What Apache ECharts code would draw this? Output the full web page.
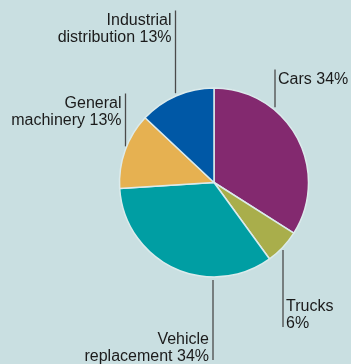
<!DOCTYPE html>
<html>
<head>
<meta charset="utf-8">
<script src="https://cdn.jsdelivr.net/npm/echarts@6/dist/echarts.min.js"></script>
<style>
  html, body { margin: 0; padding: 0; background: #c9dfe1; }
  #chart { width: 351px; height: 364px; }
</style>
</head>
<body>
<div id="chart"></div>
<script>
// Market segments and their shares (%), clockwise from 12 o'clock
const categories = ['Cars', 'Trucks', 'Vehicle\nreplacement', 'General\nmachinery', 'Industrial\ndistribution'];
const shares = [34, 6, 34, 13, 13];
const sliceColors = ['#83296f', '#a9ae4b', '#009ea3', '#e6b151', '#0058a6'];
// Trucks puts its percentage on a line of its own
const valueOnOwnLine = [false, true, false, false, false];

// Pie geometry (px)
const CENTER = [214, 182.5];
const RADIUS = 94.5;

// Where each label sits: the x of its vertical leader, which side the text is on,
// and the top (labels above the pie) or bottom (labels below) of the text block
const labelPlaces = [
  { lineX: 275,   side: 'right', top: 71 },
  { lineX: 283,   side: 'right', bottom: 332 },
  { lineX: 213,   side: 'left',  bottom: 365 },
  { lineX: 125.5, side: 'left',  top: 95 },
  { lineX: 175.5, side: 'left',  top: 12 }
];

const chart = echarts.init(document.getElementById('chart'), null, { renderer: 'canvas' });

chart.setOption({
  backgroundColor: '#c9dfe1',
  animation: false,
  series: [{
    type: 'pie',
    center: CENTER,
    radius: RADIUS,
    startAngle: 90,
    clockwise: true,
    avoidLabelOverlap: false,
    emphasis: { disabled: true },
    itemStyle: { borderColor: '#dcebec', borderWidth: 1.5 },
    label: {
      show: true,
      position: 'outside',
      overflow: 'none',
      color: '#1b1b1b',
      fontFamily: 'Liberation Sans, Arial, sans-serif',
      fontSize: 16,
      lineHeight: 17,
      formatter: p => p.name + (valueOnOwnLine[p.dataIndex] ? '\n' : ' ') + p.value + '%'
    },
    labelLine: {
      show: true,
      smooth: false,
      lineStyle: { color: '#4a4a4a', width: 1.3 }
    },
    labelLayout: function (params) {
      const place = labelPlaces[params.dataIndex];
      const dx = place.lineX - CENTER[0];
      const half = Math.sqrt(Math.max(RADIUS * RADIUS - dx * dx, 0));
      const textX = place.side === 'right' ? place.lineX + 3 : place.lineX - 4;
      const align = place.side === 'right' ? 'left' : 'right';
      let y, verticalAlign, y1, y2;
      if (place.top != null) {
        y = place.top;
        verticalAlign = 'top';
        y1 = place.top - 1.5;
        y2 = CENTER[1] - half - 3;
      } else {
        y = place.bottom;
        verticalAlign = 'bottom';
        y1 = CENTER[1] + half + 3;
        y2 = place.bottom - 5;
      }
      return {
        x: textX,
        y: y,
        align: align,
        verticalAlign: verticalAlign,
        labelLinePoints: [[place.lineX, y1], [place.lineX, (y1 + y2) / 2], [place.lineX, y2]]
      };
    },
    data: categories.map((name, i) => ({
      name: name,
      value: shares[i],
      itemStyle: { color: sliceColors[i] }
    }))
  }]
});
</script>
</body>
</html>
